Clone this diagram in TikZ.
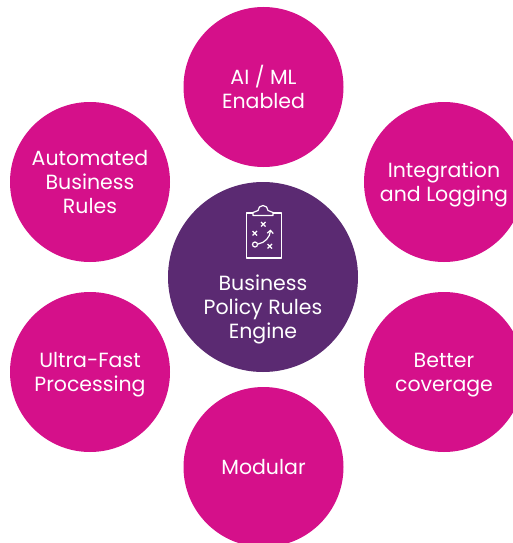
\documentclass[tikz,border=0pt]{standalone}
\usepackage{fontspec}
\setmainfont{Poppins}
\usetikzlibrary{arrows.meta}
\definecolor{petal}{HTML}{D5108A}
\definecolor{hub}{HTML}{5B2A72}
\newcommand{\topgap}{\rule{0pt}{20pt}}
\begin{document}
\begin{tikzpicture}[x=1pt,y=-1pt,
            petal/.style = {circle, fill=petal, text=white, minimum size=160pt, inner sep=0pt, align=center, font=\fontsize{20.5}{24}\selectfont},
            hub/.style = {circle, fill=hub, text=white, minimum size=190pt, inner sep=0pt},
            hubtext/.style = {text=white, align=center, font=\fontsize{20.5}{24}\selectfont},
            icon/.style = {draw=white, line width=1.2pt, line join=round},
        ]
            \useasboundingbox (0,0) rectangle (512,543);

            % Outer circles
            \node[petal] (ai) at (263.5,87) {AI / ML\\Enabled};
            \node[petal] (integration) at (444,182) {\topgap Integration\\and Logging};
            \node[petal] (coverage) at (444,372) {\topgap Better\\coverage};
            \node[petal] (modular) at (263.5,467) {Modular};
            \node[petal] (fast) at (90,372) {\topgap Ultra-Fast\\Processing};
            \node[petal] (automated) at (90,182) {Automated\\Business\\Rules};

            % Centre circle
            \node[hub] (engine) at (263,277) {};
            \node[hubtext] (enginetext) at (263,309) {Business\\Policy Rules\\Engine};

            % Clipboard icon
            \draw[icon] (253,213) -- (246.5,213) -- (246.5,258) -- (281.5,258) -- (281.5,213) -- (273,213);
            \draw[icon] (253,215.5) -- (273,215.5) -- (273,212.5) -- (268,210.5) arc (0:-180:5 and 5) -- (253,212.5) -- cycle;
            \draw[icon] (255,244.5) circle (2.5);
            \draw[icon,-{Straight Barb[length=3pt,width=6pt]}] (258,244) .. controls (265,243) and (270,237) .. (270.5,229.5);
            \draw[icon] (261,222) -- (265.5,226.5) (265.5,222) -- (261,226.5);
            \draw[icon] (252.5,231) -- (257,235.5) (257,231) -- (252.5,235.5);
            \draw[icon] (267.5,244) -- (272,248.5) (272,244) -- (267.5,248.5);
        \end{tikzpicture}
\end{document}
